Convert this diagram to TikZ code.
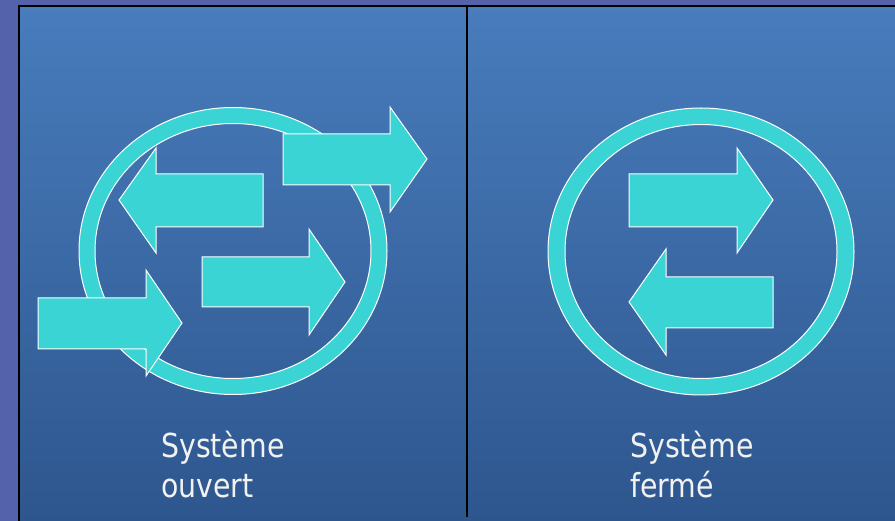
\documentclass[tikz,border=0pt]{standalone}
\usepackage{fontspec}
\newfontfamily\labelfont[FakeStretch=0.86]{DejaVu Sans}
\definecolor{outerbg}{RGB}{84,98,172}
\definecolor{bgtop}{RGB}{72,124,188}
\definecolor{bgbot}{RGB}{46,86,142}
\definecolor{turq}{RGB}{58,212,212}
\definecolor{txt}{RGB}{242,242,242}
\tikzset{
  arrowshape/.style={fill=turq, draw=white, line width=1pt, line join=miter},
  ringshape/.style={fill=turq, draw=white, line width=1pt, even odd rule},
  frameline/.style={draw=black, line width=2pt},
  lbl/.style={anchor=base west, inner sep=0pt, text=txt, font=\labelfont\fontsize{33}{40}\selectfont}
}
\begin{document}
\begin{tikzpicture}[x=1pt,y=-1pt]
\useasboundingbox (0,0) rectangle (895,521);
% background
\fill[outerbg] (0,0) rectangle (895,521);
\shade[top color=bgtop, bottom color=bgbot] (18,6) rectangle (895,521);
% frame lines
\draw[frameline] (18.5,521) -- (18.5,6.5) -- (895,6.5);
\draw[frameline] (467,6.5) -- (467,517);
% left panel: open system
\path[ringshape] (233,251) ellipse [x radius=154pt, y radius=143.5pt]
                 (233,251) ellipse [x radius=138pt, y radius=127.5pt];
% A1 left-pointing
\path[arrowshape] (263,174) -- (156,174) -- (156,148) -- (119,200) -- (156,253) -- (156,227) -- (263,227) -- cycle;
% A2 outgoing
\path[arrowshape] (283,134) -- (390,134) -- (390,107) -- (427,159) -- (390,212) -- (390,185) -- (283,185) -- cycle;
% A3 middle right
\path[arrowshape] (202,257) -- (309,257) -- (309,229) -- (345,282) -- (309,335) -- (309,307) -- (202,307) -- cycle;
% A4 incoming
\path[arrowshape] (38,298) -- (146,298) -- (146,270) -- (182,323) -- (146,376) -- (146,349) -- (38,349) -- cycle;
\node[lbl] (o1) at (161,457) {Système};
\node[lbl] (o2) at (161,497) {ouvert};
% right panel: closed system
\path[ringshape] (701,251.5) ellipse [x radius=153pt, y radius=143.5pt]
                 (701,251.5) ellipse [x radius=136pt, y radius=127pt];
\path[arrowshape] (629,174) -- (737,174) -- (737,148) -- (773,200) -- (737,253) -- (737,227) -- (629,227) -- cycle;
\path[arrowshape] (773,277) -- (666,277) -- (666,249) -- (629,302) -- (666,355) -- (666,328) -- (773,328) -- cycle;
\node[lbl] (f1) at (630,457) {Système};
\node[lbl] (f2) at (630,497) {fermé};
\end{tikzpicture}
\end{document}
